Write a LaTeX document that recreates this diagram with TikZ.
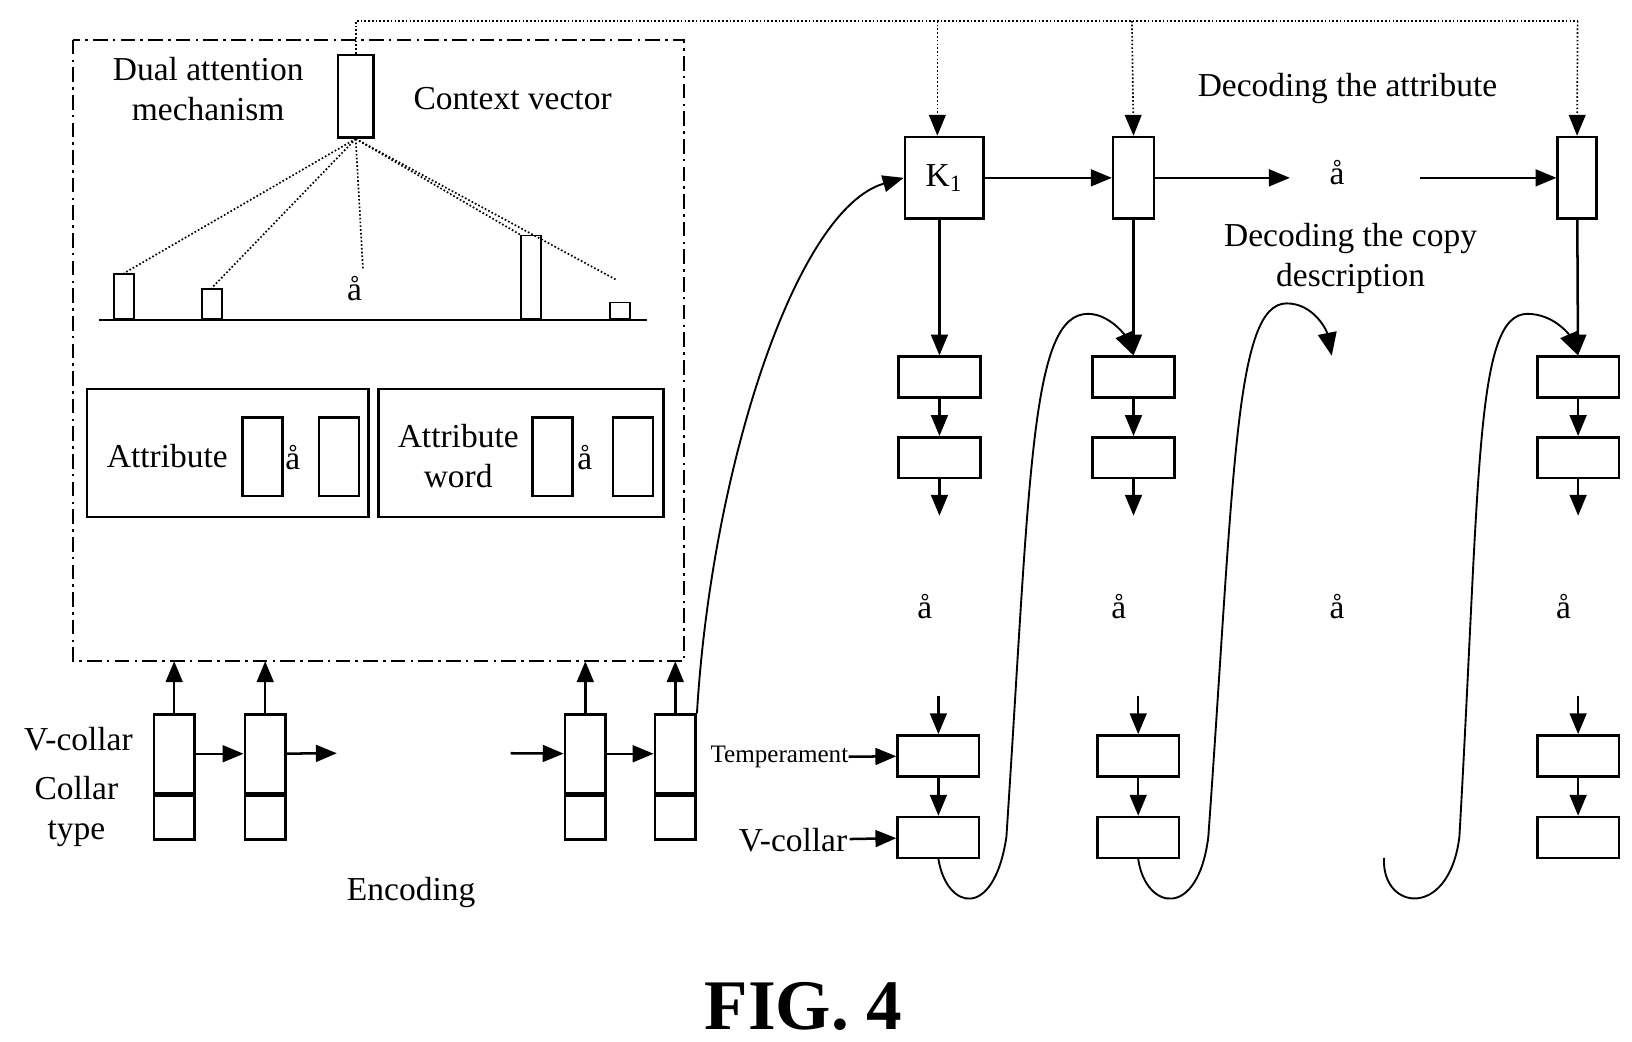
\documentclass[tikz,border=0pt]{standalone}
\usepackage{fontspec}
\setmainfont{Liberation Serif}
\usetikzlibrary{arrows.meta,positioning}

\begin{document}
\begin{tikzpicture}[x=0.5pt,y=-0.5pt]
\tikzstyle{box} = [rectangle, draw, line width=1.2pt, inner sep=0pt]
\tikzstyle{dec} = [box, minimum width=39pt, minimum height=19.5pt]
\tikzstyle{cell} = [box, minimum width=19.5pt]
\tikzstyle{bar} = [box, line width=0.9pt, minimum width=9.5pt, anchor=south]
\tikzstyle{line} = [draw, line width=1.2pt, -{Triangle[length=10pt,width=8pt]}]
\tikzstyle{dots} = [draw, densely dotted, line width=0.8pt]
\tikzstyle{lbl} = [font=\fontsize{16}{19}\selectfont, align=center]
\useasboundingbox (0,0) rectangle (1560,996);
% attention block
\draw[line width=1.2pt, dash pattern=on 7pt off 2.5pt on 1.2pt off 2.5pt] (70,38) rectangle (654,632);
\node[box, minimum width=17pt, minimum height=39.5pt] (ctx) at (340,92) {};
\node[lbl] (dual) at (199,85) {Dual attention\\mechanism};
\node[lbl] (ctxlbl) at (490,94) {Context vector};
\coordinate (axl) at (95,306);
\coordinate (axr) at (618,306);
\draw[line width=1.1pt] (axl) -- (axr);
\node[bar, minimum height=21.5pt] (b1) at (118.5,306) {};
\node[bar, minimum height=14.5pt] (b2) at (202.5,306) {};
\node[bar, minimum height=40pt] (b3) at (507.5,306) {};
\node[bar, minimum height=8pt] (b4) at (593,306) {};
\node[lbl] (adots) at (339,276) {å};
\path[dots] (ctx.south) -- (b1.north);
\path[dots] (ctx.south) -- (b2.north);
\path[dots] (ctx.south) -- (347,258);
\path[dots] (ctx.south) -- (b3.north west);
\path[dots] (ctx.south) -- (590,268);
% attribute panels
\node[box, minimum width=134.5pt, minimum height=61pt] (attr) at (217.5,433) {};
\node[lbl] (attrlbl) at (160,436) {Attribute};
\node[box, minimum width=19pt, minimum height=37.5pt] (a1) at (251,436.5) {};
\node[box, minimum width=19pt, minimum height=37.5pt] (a2) at (324,436.5) {};
\node[lbl] at (280,437) {å};
\node[box, minimum width=136pt, minimum height=61pt] (word) at (498,433) {};
\node[lbl] (wordlbl) at (438,436) {Attribute\\word};
\node[box, minimum width=19pt, minimum height=37.5pt] (w1) at (528,436.5) {};
\node[box, minimum width=19pt, minimum height=37.5pt] (w2) at (605,436.5) {};
\node[lbl] at (559,437) {å};
% encoder
\foreach \n/\x in {e1/166.5, e2/253.5, e3/559.5, e4/645.5} {
  \node[cell, minimum height=37.5pt] (\n) at (\x,720.5) {};
  \node[cell, minimum height=21pt, anchor=north] (\n b) at (\n.south) {};
  \coordinate (\n t) at (\x,632);
  \path[line] (\n) -- (\n t);
}
\coordinate (ein) at (488,720);
\coordinate (eout) at (322,720);
\path[line] (e1) -- (e2);
\path[line] (e2) -- (eout);
\path[line] (ein) -- (e3);
\path[line] (e3) -- (e4);
\node[lbl] (vc) at (75,707) {V-collar};
\node[lbl] (ct) at (73,776) {Collar\\type};
\node[lbl] (enc) at (393,853) {Encoding};
% decoder top
\node[box, lbl, minimum width=37.5pt, minimum height=39pt] (k1) at (902.5,170) {K\textsubscript{1}};
\node[box, minimum width=19.5pt, minimum height=39pt] (t2) at (1083.5,170) {};
\node[lbl] (tdots) at (1278,165) {å};
\node[box, minimum width=18.5pt, minimum height=39pt] (t4) at (1507.5,170) {};
\coordinate (tout) at (1233,170);
\coordinate (tin) at (1357,170);
\path[line] (k1) -- (t2);
\path[line] (t2) -- (tout);
\path[line] (tin) -- (t4);
\node[lbl] (datt) at (1288,85) {Decoding the attribute};
\node[lbl] (dcopy) at (1291,247) {Decoding the copy\\description};
% context feed
\coordinate (c0) at (340,20);
\coordinate (c1) at (896,20);
\coordinate (c2) at (1082,20);
\coordinate (c3) at (1508,20);
\path[dots] (ctx.north) -- (c0) -- (c3);
\path[dots, -{Triangle[length=10pt,width=8pt]}] (c1) -- (k1.north -| c1);
\path[dots, -{Triangle[length=10pt,width=8pt]}] (c2) -- (t2.north);
\path[dots, -{Triangle[length=10pt,width=8pt]}] (c3) -- (t4.north);
\draw[line width=0.9pt, -{Triangle[length=10pt,width=8pt]}] (e4.north east) .. controls (680,450) and (760,200) .. (k1.west);
% decoder columns
\foreach \n/\x/\lx in {d1/898/897, d2/1083.5/1088, d4/1508.5/1508.5} {
  \node[dec] (\n a) at (\x,360.5) {};
  \node[dec] (\n b) at (\x,437.5) {};
  \coordinate (\n o) at (\x,493);
  \node[lbl] at (\x-14,580) {å};
  \coordinate (\n i) at (\lx,665);
  \node[dec] (\n c) at (\lx,722.5) {};
  \node[dec] (\n d) at (\lx,800.5) {};
  \path[line] (\n a) -- (\n b);
  \path[line] (\n b) -- (\n o);
  \path[line] (\n i) -- (\n c);
  \path[line] (\n c) -- (\n d);
}
\node[lbl] at (1278,580) {å};
\path[line] (k1.south -| d1a.north) -- (d1a.north);
\path[line] (t2) -- (d2a);
\path[line] (t4) -- (d4a);
\node[font=\fontsize{12}{14}\selectfont, inner sep=0pt] (temp) at (745,724) {Temperament};
\node[lbl, inner sep=1pt] (vc2) at (758,803) {V-collar};
\path[line] (temp) -- (d1c);
\path[line] (vc2) -- (d1d);
% copy loops
\draw[line width=0.9pt, -{Triangle[length=11pt,width=9pt]}] (d1d.south) .. controls (905,870) and (950,880) .. (962,800)
  .. controls (985,450) and (985,300) .. (1040,300) .. controls (1060,300) and (1075,320) .. (d2a.north);
\draw[line width=0.9pt, -{Triangle[length=11pt,width=9pt]}] (d2d.south) .. controls (1095,870) and (1145,880) .. (1155,800)
  .. controls (1180,450) and (1180,290) .. (1230,290) .. controls (1255,290) and (1268,315) .. (1273,340);
\coordinate (l3) at (1323,820);
\draw[line width=0.9pt, -{Triangle[length=11pt,width=9pt]}] (l3) .. controls (1320,870) and (1385,880) .. (1395,800)
  .. controls (1415,450) and (1410,300) .. (1460,300) .. controls (1485,300) and (1500,320) .. (d4a.north);
\node[font=\bfseries\fontsize{34}{40}\selectfont] (fig) at (768,962) {FIG. 4};
\end{tikzpicture}
\end{document}
